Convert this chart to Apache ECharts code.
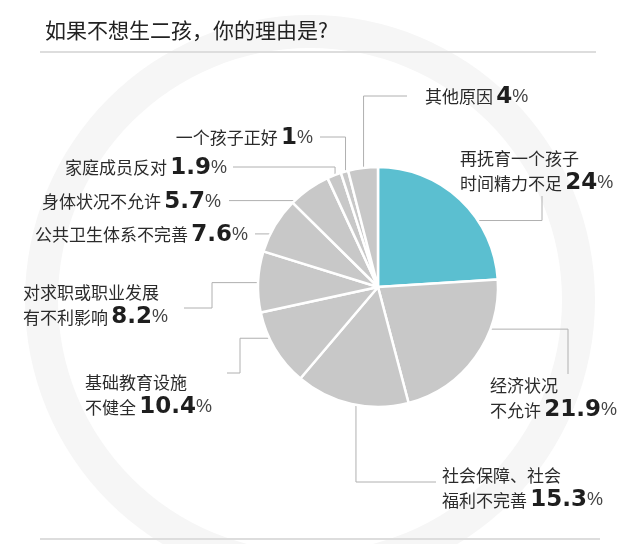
<!DOCTYPE html>
<html>
<head>
<meta charset="utf-8">
<script src="https://cdn.jsdelivr.net/npm/echarts@6/dist/echarts.min.js"></script>
<style>
  html, body { margin: 0; padding: 0; background: #fff; }
  #main { width: 635px; height: 544px; }
</style>
</head>
<body>
<div id="main"></div>
<script>
// reasons, clockwise from 12 o'clock
const categories = [
  '再抚育一个孩子\n时间精力不足',
  '经济状况\n不允许',
  '社会保障、社会\n福利不完善',
  '基础教育设施\n不健全',
  '对求职或职业发展\n有不利影响',
  '公共卫生体系不完善',
  '身体状况不允许',
  '家庭成员反对',
  '一个孩子正好',
  '其他原因'
];
const values = [24, 21.9, 15.3, 10.4, 8.2, 7.6, 5.7, 1.9, 1, 4];
const sliceColors = ['#5bbfd0', '#c8c8c8', '#c8c8c8', '#c8c8c8', '#c8c8c8',
  '#c8c8c8', '#c8c8c8', '#c8c8c8', '#c8c8c8', '#c8c8c8'];

// where each label sits and how its leader line bends
// r = where the line starts inside the slice (fraction of radius)
const labelSpots = [
  { x: 460, y: 171, align: 'left', r: 0.76, path: ['h', 542, 'v', 196] },
  { x: 490, y: 398, align: 'left', r: 0.6, path: ['h', 568, 'v', 374] },
  { x: 442, y: 488, align: 'left', r: 0.83, path: ['v', 482, 'h', 436] },
  { x: 85, y: 395, align: 'left', r: 0.83, path: ['h', 240, 'v', 373, 'h', 227] },
  { x: 23, y: 305, align: 'left', r: 0.83, path: ['h', 212, 'v', 308, 'h', 184] },
  { x: 248, y: 235, align: 'right', r: 0.86, path: ['h', 255] },
  { x: 221, y: 202, align: 'right', r: 0.88, path: ['h', 229] },
  { x: 227, y: 168, align: 'right', r: 0.98, path: ['v', 167, 'h', 233] },
  { x: 313, y: 138, align: 'right', r: 0.97, path: ['v', 137, 'h', 320] },
  { x: 425, y: 97, align: 'left', r: 0.96, path: ['v', 96, 'h', 407] }
];

const CX = 378, CY = 287, R = 120;
const chart = echarts.init(document.getElementById('main'));

chart.setOption({
  backgroundColor: '#fff',
  animation: false,
  title: {
    text: '如果不想生二孩，你的理由是?',
    left: 40,
    top: 15,
    textStyle: {
      fontFamily: 'Noto Sans CJK SC',
      fontSize: 21,
      fontWeight: 'normal',
      color: '#222'
    }
  },
  graphic: [
    {
      type: 'ring',
      z: -10,
      shape: { cx: 310, cy: 300, r: 285, r0: 252 },
      style: { fill: '#f6f6f6' },
      silent: true
    },
    {
      type: 'line',
      shape: { x1: 40, y1: 52, x2: 596, y2: 52 },
      style: { stroke: '#dddddd', lineWidth: 2 },
      silent: true
    },
    {
      type: 'line',
      shape: { x1: 40, y1: 539, x2: 600, y2: 539 },
      style: { stroke: '#dddddd', lineWidth: 2 },
      silent: true
    }
  ],
  series: [
    {
      type: 'pie',
      center: [CX, CY],
      radius: R,
      startAngle: 90,
      avoidLabelOverlap: false,
      emphasis: { disabled: true },
      itemStyle: { borderColor: '#fff', borderWidth: 2.5 },
      label: {
        show: true,
        position: 'outside',
        formatter: p => '{n|' + p.name + '} {v|' + p.value + '}{p|%}',
        rich: {
          n: {
            fontFamily: 'Noto Sans CJK SC',
            fontSize: 17,
            color: '#2b2b2b',
            lineHeight: 25
          },
          v: {
            fontFamily: 'DejaVu Sans',
            fontWeight: 'bold',
            fontSize: 23,
            color: '#1e1e1e',
            lineHeight: 25
          },
          p: {
            fontFamily: 'Liberation Sans',
            fontSize: 18,
            color: '#444',
            lineHeight: 25
          }
        }
      },
      labelLine: {
        show: true,
        lineStyle: { color: '#b0b0b0', width: 1 }
      },
      labelLayout: function (params) {
        const spot = labelSpots[params.dataIndex];
        const p0 = params.labelLinePoints[0];
        const dx = p0[0] - CX, dy = p0[1] - CY;
        const len = Math.sqrt(dx * dx + dy * dy) || 1;
        let px = CX + dx / len * R * spot.r;
        let py = CY + dy / len * R * spot.r;
        const pts = [[px, py]];
        for (let i = 0; i < spot.path.length; i += 2) {
          if (spot.path[i] === 'h') px = spot.path[i + 1];
          else py = spot.path[i + 1];
          pts.push([px, py]);
        }
        return {
          x: spot.x,
          y: spot.y,
          align: spot.align,
          verticalAlign: 'middle',
          labelLinePoints: pts
        };
      },
      data: values.map((v, i) => ({
        name: categories[i],
        value: v,
        itemStyle: { color: sliceColors[i] }
      }))
    }
  ]
});
</script>
</body>
</html>
